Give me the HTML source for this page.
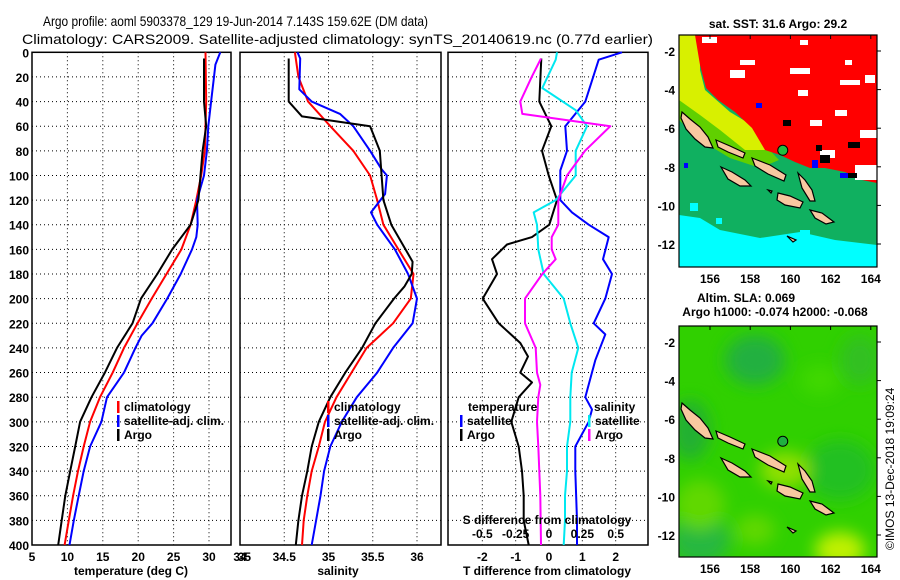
<!DOCTYPE html>
<html><head><meta charset="utf-8"><style>
body{margin:0;background:#fff;}
svg{display:block;font-family:"Liberation Sans",sans-serif;}
.t{font-size:12px;font-weight:bold;fill:#000}
</style></head><body>
<svg id="fig" width="900" height="580" viewBox="0 0 900 580">
<text x="43" y="26" font-size="14" textLength="385" lengthAdjust="spacingAndGlyphs">Argo profile: aoml 5903378_129 19-Jun-2014 7.143S 159.62E (DM data)</text>
<text x="22" y="44" font-size="14" textLength="631" lengthAdjust="spacingAndGlyphs">Climatology: CARS2009. Satellite-adjusted climatology: synTS_20140619.nc (0.77d earlier)</text>
<g id="panels"></g>
<g id="maps"></g>
<text class="t" transform="translate(894,550) rotate(-90)" font-weight="normal" style="font-weight:normal" font-size="12">©IMOS 13-Dec-2018 19:09:24</text>
</svg>
<script>
// ---------- data ----------
const depthTicks=[0,20,40,60,80,100,120,140,160,180,200,220,240,260,280,300,320,340,360,380,400];
const tempTicks=[5,10,15,20,25,30,35];
const salTicks=[34,34.5,35,35.5,36];
const diffTicks=[-2,-1,0,1,2];
const sdiffTicks=[-0.5,-0.25,0,0.25,0.5];
const sdiffLabels=["-0.5","-0.25","0","0.25","0.5"];

const tArgoZ=[5,40,60,80,100,120,140,160,180,200,220,240,260,280,300,320,340,360,380,400];
const tArgo=[29.3,29.3,29.6,29.1,28.8,28.5,27.4,24.8,22.7,20.4,19.2,17.0,15.3,13.4,11.8,11.1,10.4,9.7,9.2,8.7];
const tClimZ=[0,40,80,100,120,140,160,180,200,220,240,260,280,300,320,340,360,380,400];
const tClim=[29.5,29.6,29.4,28.9,28.2,27.4,26.1,24.0,21.9,19.9,18.0,16.4,14.6,13.2,12.3,11.5,10.8,10.2,9.6];
const tSatZ=[0,10,20,40,60,80,100,120,140,150,160,180,200,220,230,240,260,280,300,320,340,360,380,400];
const tSat=[31.6,30.9,30.7,30.3,29.9,29.7,29.3,28.3,28.4,28.2,27.6,26.0,24.1,22.0,20.5,19.6,18.0,15.6,14.8,13.2,12.3,11.6,10.9,10.3];

const sArgoZ=[5,40,52,60,80,100,120,140,170,180,190,200,220,240,260,280,300,320,340,360,380,400];
const sArgo=[34.55,34.55,34.70,35.47,35.58,35.60,35.62,35.71,35.95,35.94,35.86,35.74,35.53,35.38,35.19,35.02,34.89,34.81,34.76,34.70,34.66,34.63];
const sClimZ=[0,20,40,60,80,100,120,140,160,180,200,220,240,260,280,300,320,340,360,380,400];
const sClim=[34.62,34.66,34.77,35.02,35.28,35.47,35.55,35.62,35.79,35.96,35.93,35.73,35.43,35.26,35.09,34.96,34.89,34.81,34.76,34.72,34.70];
const sSatZ=[0,5,30,40,50,60,80,95,100,115,130,140,160,180,200,220,240,260,280,300,320,340,360,380,400];
const sSat=[34.65,34.68,34.67,34.81,35.13,35.28,35.47,35.60,35.66,35.64,35.48,35.55,35.75,35.90,36.00,35.95,35.73,35.55,35.32,35.15,35.02,34.95,34.91,34.86,34.81];

const dTArgoZ=[5,40,60,80,100,120,140,150,156,168,180,200,220,236,247,260,268,280,300,320,340,360,380,400];
const dTArgo=[-0.23,-0.29,0.07,-0.21,-0.01,0.24,0.01,-0.51,-1.26,-1.71,-1.56,-1.99,-1.51,-0.86,-0.63,-0.86,-0.51,-0.91,-1.13,-0.91,-0.81,-0.76,-0.76,-0.61];
const dTSatZ=[0,6,40,60,80,96,120,130,140,150,168,180,200,220,229,250,280,290,300,320,340,380,400];
const dTSat=[2.19,1.49,1.09,0.49,0.54,0.34,0.34,0.69,1.19,1.79,1.62,1.89,1.69,1.34,1.69,1.39,1.09,1.29,1.19,0.79,0.79,0.84,0.84];
const dSSatZ=[0,6,29,47,60,80,100,120,130,140,160,180,200,220,240,260,280,300,320,340,360,380,400];
const dSSat=[0.06,0.05,-0.05,0.2,0.285,0.2,0.2,0.05,-0.115,-0.09,-0.08,-0.04,0.11,0.16,0.22,0.17,0.16,0.16,0.135,0.135,0.12,0.12,0.11];
const dSArgoZ=[5,20,40,50,60,80,100,120,140,150,160,168,180,200,220,240,260,270,280,300,320,360,400];
const dSArgo=[-0.06,-0.13,-0.215,-0.2,0.46,0.27,0.135,0.07,0.07,0.02,0.02,0.05,-0.05,-0.18,-0.18,-0.1,-0.09,-0.065,-0.08,-0.09,-0.08,-0.065,-0.06];

const lonTicks=[156,158,160,162,164];
const latTicks=[-2,-4,-6,-8,-10,-12];
const argoLon=159.62, argoLat=-7.143;

// ---------- helpers ----------
const NS="http://www.w3.org/2000/svg";
function mk(tag,attrs,parent,txt){const e=document.createElementNS(NS,tag);for(const k in attrs)e.setAttribute(k,attrs[k]);if(txt!==undefined)e.textContent=txt;parent.appendChild(e);return e;}
const Y0=52.3,Y1=545;
function yD(d){return Y0+(Y1-Y0)*d/400;}
const panelsG=document.getElementById('panels');

function panel(name,x0,x1,vmin,vmax,ticks,labels){
  const g=mk('g',{},panelsG);
  
  
  const xs=v=>x0+(x1-x0)*(v-vmin)/(vmax-vmin);
  // grid
  depthTicks.forEach(d=>{if(d>0&&d<400){const l=mk('line',{x1:x0,x2:x1,y1:yD(d),y2:yD(d),stroke:'#000','stroke-width':1,'stroke-dasharray':'1,3'},g);
    }});
  ticks.forEach(v=>{const x=xs(v);if(x>x0+1&&x<x1-1){const l=mk('line',{x1:x,x2:x,y1:Y0,y2:Y1,stroke:'#000','stroke-width':1,'stroke-dasharray':'1,3'},g);
    }});
  const r=mk('rect',{x:x0,y:Y0,width:x1-x0,height:Y1-Y0,fill:'none',stroke:'#000','stroke-width':1.5},g);
  
  if(labels){ticks.forEach((v,i)=>{const t=mk('text',{x:xs(v),y:Y1+16,'text-anchor':'middle',class:'t'},g,labels[i]);
    });}
  return {g,xs};
}
function series(p,vals,zs,color,name,w){
  const pts=vals.map((v,i)=>p.xs(v).toFixed(1)+','+yD(zs[i]).toFixed(1)).join(' ');
  const pl=mk('polyline',{points:pts,fill:'none',stroke:color,'stroke-width':w||2,'stroke-linejoin':'round'},p.g);
  
  
}
function legend(g,x,y,items){
  items.forEach((it,i)=>{
    const r=mk('rect',{x:x,y:y+i*14-10,width:2.5,height:12,fill:it[1]},g);
    
    const t=mk('text',{x:x+7,y:y+i*14,class:'t'},g,it[0]);
    
  });
}

// depth axis labels
depthTicks.forEach(d=>{const t=mk('text',{x:29,y:yD(d)+5,'text-anchor':'end',class:'t'},panelsG,String(d));
  });

// Panel 1 temperature
const p1=panel('temperature-panel',32,231,5,5+199/7.08,tempTicks,tempTicks.map(String));
series(p1,tClim,tClimZ,'#ff0000','temp-climatology-line');
series(p1,tSat,tSatZ,'#0000ff','temp-satellite-line');
series(p1,tArgo,tArgoZ,'#000000','temp-argo-line');
legend(p1.g,117,411,[['climatology','#ff0000'],['satellite-adj. clim.','#0000ff'],['Argo','#000']]);
let t=mk('text',{x:131,y:575,'text-anchor':'middle',class:'t'},panelsG,'temperature (deg C)');


// Panel 2 salinity
const p2=panel('salinity-panel',240,441,34,34+201/88.5,salTicks,salTicks.map(String));
series(p2,sClim,sClimZ,'#ff0000','sal-climatology-line');
series(p2,sSat,sSatZ,'#0000ff','sal-satellite-line');
series(p2,sArgo,sArgoZ,'#000000','sal-argo-line');
legend(p2.g,327,411,[['climatology','#ff0000'],['satellite-adj. clim.','#0000ff'],['Argo','#000']]);
t=mk('text',{x:338,y:575,'text-anchor':'middle',class:'t'},panelsG,'salinity');


// Panel 3 differences
const p3=panel('difference-panel',448,648,-3.03,2.97,diffTicks,diffTicks.map(String));
const sx=v=>p3.xs(v*4);
series(p3,dTArgo,dTArgoZ,'#000000','tdiff-argo-line');
series(p3,dTSat,dTSatZ,'#0000ff','tdiff-satellite-line');
series(p3,dSSat.map(v=>v*4),dSSatZ,'#00e8f0','sdiff-satellite-line');
series(p3,dSArgo.map(v=>v*4),dSArgoZ,'#ff00ff','sdiff-argo-line');
t=mk('text',{x:468,y:411,class:'t'},p3.g,'temperature');
legend(p3.g,460,425,[['satellite','#0000ff'],['Argo','#000']]);
t=mk('text',{x:594,y:411,class:'t'},p3.g,'salinity');
legend(p3.g,588,425,[['satellite','#00e8f0'],['Argo','#ff00ff']]);
t=mk('text',{x:547,y:524,'text-anchor':'middle',class:'t'},p3.g,'S difference from climatology');

sdiffTicks.forEach((v,i)=>{const e=mk('text',{x:sx(v),y:538,'text-anchor':'middle',class:'t'},p3.g,sdiffLabels[i]);
  });
t=mk('text',{x:547,y:575,'text-anchor':'middle',class:'t'},panelsG,'T difference from climatology');


// ---------- maps ----------
const mapsG=document.getElementById('maps');
const MX0=679,MX1=877;
const lx=lon=>710+(lon-156)*20.1;
function islands(g,dy){
  const polys=[
   [[682,112],[690,119],[700,127],[708,137],[713,148],[705,147],[695,139],[686,129],[681,118]],
   [[716,140],[730,146],[745,153],[743,158],[728,152],[718,147]],
   [[752,158],[770,165],[786,175],[784,181],[768,174],[755,166]],
   [[721,167],[732,172],[745,180],[751,186],[740,186],[728,179]],
   [[778,193],[790,196],[803,202],[800,208],[785,205],[777,200]],
   [[798,173],[805,180],[812,190],[815,201],[810,201],[802,188]],
   [[810,210],[822,213],[834,222],[826,224],[815,218]],
   [[787,236],[796,240],[793,242]],
   [[768,190],[772,191],[771,193]]
  ];
  polys.forEach(p=>{const e=mk('polygon',{points:p.map(q=>q[0]+','+(q[1]+dy)).join(' '),fill:'#f8c8a0',stroke:'#000','stroke-width':1.2},g);
    });
}
function mapAxes(g,y0,y1,latY){
  const r=mk('rect',{x:MX0,y:y0,width:MX1-MX0,height:y1-y0,fill:'none',stroke:'#000','stroke-width':1.2},g);
  
  lonTicks.forEach(v=>{const e=mk('text',{x:lx(v),y:y1+16,'text-anchor':'middle',class:'t'},g,String(v));
    
    mk('line',{x1:lx(v),x2:lx(v),y1:y0,y2:y0+4,stroke:'#000'},g);});
  latTicks.forEach(v=>{const y=latY(v);const e=mk('text',{x:MX0-4,y:y+5,'text-anchor':'end',class:'t'},g,String(v));
    
    mk('line',{x1:MX1,x2:MX1+4,y1:y,y2:y,stroke:'#000'},g);});
}
// top SST map
const g1=mk('g',{},mapsG);


const ly1=lat=>51+(-2-lat)*19.3;
mk('rect',{x:MX0,y:35,width:MX1-MX0,height:232,fill:'#10b060'},g1);
mk('polygon',{points:'679,35 700,35 700,90 730,120 760,140 779,160 760,168 730,158 700,140 679,120',fill:'#60d000'},g1);
mk('polygon',{points:'679,35 700,35 700,70 705,90 730,112 760,130 770,150 745,150 720,130 700,115 679,100',fill:'#d8f000'},g1);
mk('polygon',{points:'695,35 877,35 877,183 862,180 845,172 825,168 810,168 795,162 780,155 765,150 752,128 735,112 718,100 706,88 700,65',fill:'#ff0000'},g1);
[[702,37,15,6],[740,60,15,5],[730,70,15,8],[790,68,20,6],[840,80,20,5],[865,75,10,8],[798,90,10,6],[835,110,12,6],[810,120,12,6],[820,150,15,8],[860,130,17,8],[855,165,22,15],[800,40,8,5],[845,60,7,5]].forEach(b=>mk('rect',{x:b[0],y:b[1],width:b[2],height:b[3],fill:'#fff'},g1));
mk('polygon',{points:'679,215 700,218 720,230 760,238 800,232 835,240 877,245 877,267 679,267',fill:'#00ffff'},g1);
[[690,203,8,8],[716,218,6,6],[800,230,10,8]].forEach(b=>mk('rect',{x:b[0],y:b[1],width:b[2],height:b[3],fill:'#00ffff'},g1));
[[816,145,6,6],[820,155,10,8],[848,142,12,6],[845,173,12,5],[783,120,8,6]].forEach(b=>mk('rect',{x:b[0],y:b[1],width:b[2],height:b[3],fill:'#000'},g1));
[[812,160,6,8],[840,173,8,5],[756,103,6,5],[684,163,4,5]].forEach(b=>mk('rect',{x:b[0],y:b[1],width:b[2],height:b[3],fill:'#0000ff'},g1));
islands(g1,0);
let c=mk('circle',{cx:lx(argoLon),cy:ly1(argoLat),r:5,fill:'#20c040',stroke:'#000','stroke-width':1},g1);

mapAxes(g1,35,267,ly1);
t=mk('text',{x:778,y:28,'text-anchor':'middle',class:'t'},g1,'sat. SST: 31.6 Argo: 29.2');


// bottom SLA map
const g2=mk('g',{},mapsG);


const ly2=lat=>342+(-2-lat)*19.3;
const defs=mk('defs',{},g2);
const clip=mk('clipPath',{id:'mclip'},defs);mk('rect',{x:MX0,y:326,width:MX1-MX0,height:231},clip);
const f=mk('filter',{id:'bl',x:'-50%',y:'-50%',width:'200%',height:'200%'},defs);mk('feGaussianBlur',{stdDeviation:8},f);
const bg=mk('g',{'clip-path':'url(#mclip)'},g2);
mk('rect',{x:MX0,y:326,width:MX1-MX0,height:231,fill:'#30d000'},bg);
const bl=mk('g',{filter:'url(#bl)'},bg);
[[755,360,30,25,'#20b040'],[690,430,20,30,'#20b030'],[700,540,30,25,'#28b840'],[840,470,35,30,'#24c020'],[785,470,25,18,'#90e000'],[840,550,25,18,'#c0f000'],[700,505,25,25,'#60d800'],[755,530,20,15,'#60d800'],[860,360,20,25,'#30c020'],[820,380,20,15,'#40d800']].forEach(e=>mk('ellipse',{cx:e[0],cy:e[1],rx:e[2],ry:e[3],fill:e[4]},bl));
islands(g2,291);
c=mk('circle',{cx:lx(argoLon),cy:ly2(argoLat),r:5,fill:'#20b040',stroke:'#000','stroke-width':1},g2);

mapAxes(g2,326,557,ly2);
t=mk('text',{x:746,y:302,'text-anchor':'middle',class:'t'},g2,'Altim. SLA: 0.069');

t=mk('text',{x:775,y:316,'text-anchor':'middle',class:'t'},g2,'Argo h1000: -0.074 h2000: -0.068');

</script>
</body></html>
